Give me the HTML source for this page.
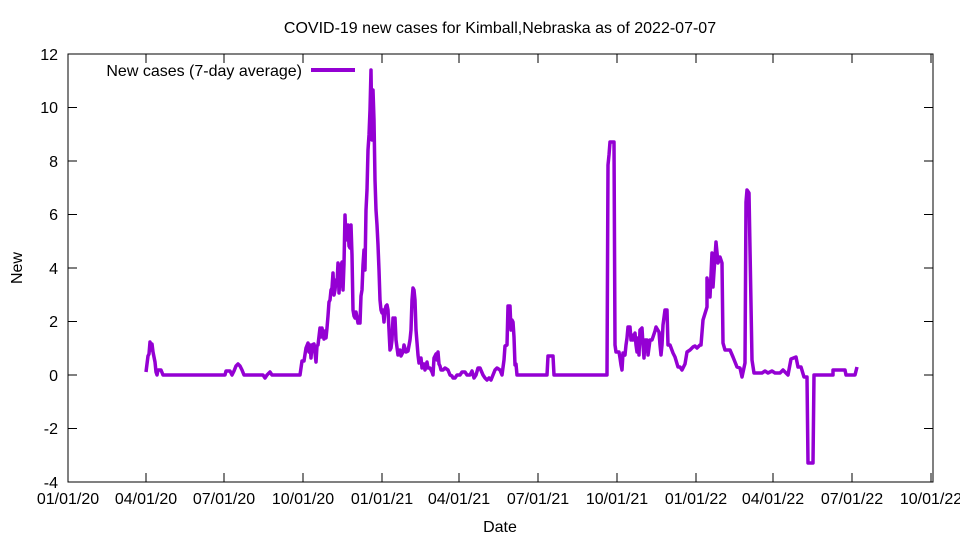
<!DOCTYPE html>
<html><head><meta charset="utf-8"><style>body{margin:0;background:#fff}svg{display:block}text{font-family:"Liberation Sans",sans-serif;font-size:16px;fill:#000}</style></head><body>
<svg width="960" height="540" viewBox="0 0 960 540">
<rect x="68" y="54" width="865" height="428" fill="none" stroke="#000" stroke-width="1"/>
<g stroke="#000" stroke-width="1">
<path d="M68 482h9M68 428.5h9M68 375h9M68 321.5h9M68 268h9M68 214.5h9M68 161h9M68 107.5h9M68 54h9M933 482h-9M933 428.5h-9M933 375h-9M933 321.5h-9M933 268h-9M933 214.5h-9M933 161h-9M933 107.5h-9M933 54h-9"/>
<path d="M68 482v-9M146 482v-9M224 482v-9M303 482v-9M382 482v-9M459 482v-9M538 482v-9M617 482v-9M696 482v-9M773 482v-9M852 482v-9M931 482v-9M68 54v9M146 54v9M224 54v9M303 54v9M382 54v9M459 54v9M538 54v9M617 54v9M696 54v9M773 54v9M852 54v9M931 54v9"/>
</g>
<g text-anchor="end">
<text x="58" y="488">-4</text><text x="58" y="434">-2</text><text x="58" y="381">0</text><text x="58" y="327">2</text><text x="58" y="274">4</text><text x="58" y="220">6</text><text x="58" y="167">8</text><text x="58" y="113">10</text><text x="58" y="60">12</text>
</g>
<g text-anchor="middle">
<text x="68" y="504">01/01/20</text><text x="146" y="504">04/01/20</text><text x="224" y="504">07/01/20</text><text x="303" y="504">10/01/20</text><text x="382" y="504">01/01/21</text><text x="459" y="504">04/01/21</text><text x="538" y="504">07/01/21</text><text x="617" y="504">10/01/21</text><text x="696" y="504">01/01/22</text><text x="773" y="504">04/01/22</text><text x="852" y="504">07/01/22</text><text x="931" y="504">10/01/22</text>
<text x="500" y="532">Date</text>
<text x="500" y="33">COVID-19 new cases for Kimball,Nebraska as of 2022-07-07</text>
</g>
<text x="22" y="268" text-anchor="middle" transform="rotate(-90 22 268)">New</text>
<text x="302" y="76" text-anchor="end">New cases (7-day average)</text>
<path d="M311 70h44" stroke="#9400d3" stroke-width="4"/>
<polyline fill="none" stroke="#9400d3" stroke-width="3.5" stroke-linejoin="round" points="146,372 147,364 148,356 149,354 150,342 151,350 152,344 153,352 155,362 156,372 157,375 158,370 161,370 163,375 225,375 226,371 230,371 232,375 234,371 236,366 238,364 240,366 242,370 244,375 263,375 265,378 267,375 270,372 272,375 300,375 302,361 304,361 306,348 308,343 309,352 310,345 311,358 312,345 314,344 316,362 317,346 318,345 320,328 321,337 322,328 324,339 325,331 326,338 327,328 328,316 329,302 330,300 331,290 332,288 333,273 334,295 335,290 336,280 337,285 338,263 339,293 340,278 341,266 342,262 343,290 344,264 345,215 346,240 347,230 348,225 349,246 350,248 351,225 352,255 353,310 354,316 355,318 356,312 358,323 360,323 361,296 362,290 363,265 364,250 365,270 366,210 367,190 368,150 369,135 370,110 371,70 372,140 373,90 374,120 375,180 376,210 377,225 378,245 379,270 380,300 381,310 382,313 383,310 384,322 385,310 386,306 387,305 388,310 389,330 390,350 391,348 392,340 393,318 394,330 395,318 396,340 398,355 400,350 401,356 403,352 404,345 406,352 408,351 410,340 411,330 412,300 413,288 414,290 415,300 416,330 418,355 419,363 421,358 422,368 424,364 425,370 427,362 428,368 430,368 432,372 433,375 434,358 436,354 437,360 438,352 439,364 440,366 441,370 443,370 445,368 448,370 450,375 452,376 453,378 455,378 457,375 460,375 462,372 465,372 467,375 470,375 472,371 474,378 476,375 478,368 480,368 483,375 485,378 487,380 489,378 491,380 493,375 495,370 497,368 500,370 502,375 504,360 505,346 507,345 508,306 510,306 511,330 512,320 513,322 514,337 515,365 516,364 517,375 547,375 548,356 553,356 554,375 607,375 608,165 609,155 610,142 614,142 615,345 616,352 619,352 620,358 621,365 622,370 623,353 625,355 626,345 627,338 628,327 630,327 631,340 632,335 633,340 635,333 636,345 637,352 638,338 639,355 640,330 642,328 643,345 644,358 645,340 647,340 648,355 650,340 652,340 655,331 656,327 659,332 660,345 661,355 662,345 663,325 665,310 667,310 668,345 670,345 673,353 675,357 678,367 680,367 682,370 685,364 687,352 690,350 693,347 695,346 697,348 700,345 701,345 703,320 707,307 707,278 710,297 712,253 713,287 716,242 718,263 720,257 722,263 723,343 725,350 730,350 733,357 737,367 740,368 742,377 745,363 746,202 747,190 749,193 752,360 754,373 762,373 765,371 768,373 772,371 775,373 780,373 783,370 788,375 791,359 796,357 798,367 801,367 804,377 807,377 808,463 813,463 814,375 833,375 833,370 845,370 846,375 855,375 857,367"/>
</svg>
</body></html>
